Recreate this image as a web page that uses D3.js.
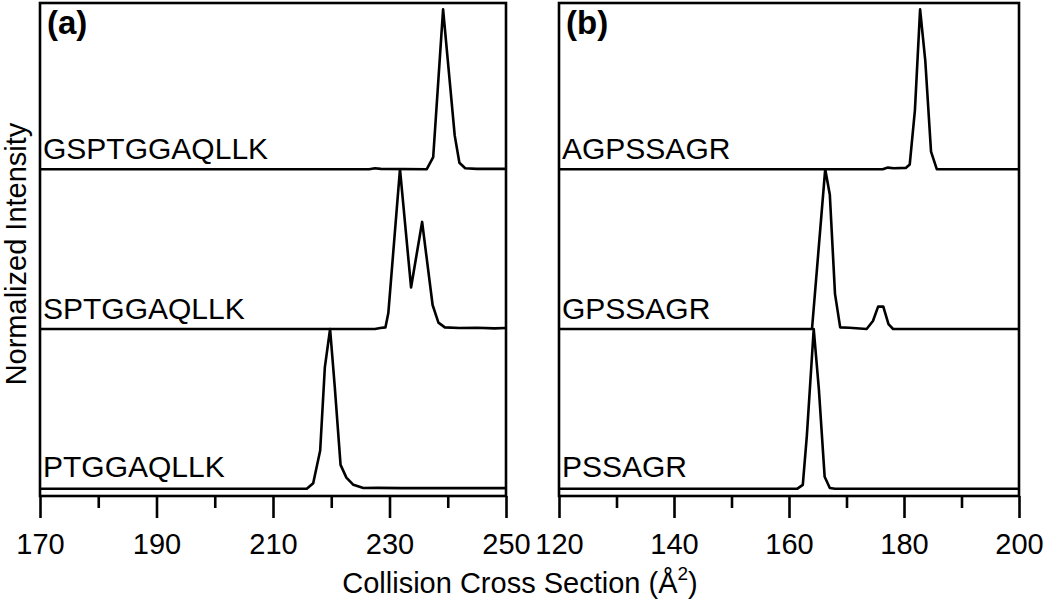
<!DOCTYPE html>
<html>
<head>
<meta charset="utf-8">
<script src="https://cdn.jsdelivr.net/npm/d3@7"></script>
<style>
  html, body { margin: 0; padding: 0; background: #fff; }
  svg { display: block; font-family: "Liberation Sans", Arial, sans-serif; }
</style>
</head>
<body>
<svg id="chart" width="1050" height="602"></svg>
<script>
// ---------------- DATA ----------------
const panelLabels = ["(a)", "(b)"];
const xDomainA = [170, 250];
const xDomainB = [120, 200];
const xMajorTicksA = [170, 190, 210, 230, 250];
const xMinorTicksA = [180, 200, 220, 240];
const xMajorTicksB = [120, 140, 160, 180, 200];
const xMinorTicksB = [130, 150, 170, 190];

// panel (a) traces, top to bottom: [CCS (Å²), normalized intensity]
const peptidesA = ["GSPTGGAQLLK", "SPTGGAQLLK", "PTGGAQLLK"];
const traceA_GSPTGGAQLLK = [
  [170, 0], [226.5, 0], [227.5, 0.006], [228.5, 0.002], [236.4, 0], [237.5, 0.075],
  [239.2, 1.0], [241.2, 0.21], [242.0, 0.04], [243.0, 0.006], [245, 0.002], [250, 0.002]
];
const traceA_SPTGGAQLLK = [
  [170, 0], [227.5, 0], [228.4, 0.006], [229.3, 0.01], [229.8, 0.10], [231.8, 1.0],
  [233.7, 0.26], [235.6, 0.67], [237.4, 0.15], [238.4, 0.04], [239.5, 0.01],
  [242, 0.006], [245, 0.008], [248, 0.004], [250, 0.006]
];
const traceA_PTGGAQLLK = [
  [170, 0], [215.8, 0], [216.9, 0.035], [218.1, 0.24], [218.9, 0.76], [219.8, 1.0],
  [220.6, 0.64], [221.6, 0.15], [222.6, 0.07], [223.8, 0.025], [225.5, 0.005],
  [228, 0.006], [232, 0.004], [250, 0.004]
];

// panel (b) traces, top to bottom
const peptidesB = ["AGPSSAGR", "GPSSAGR", "PSSAGR"];
const traceB_AGPSSAGR = [
  [120, 0], [176.3, 0], [177.2, 0.01], [178.2, 0.006], [180.3, 0.008], [181.0, 0.03],
  [181.9, 0.37], [182.8, 1.0], [183.7, 0.68], [184.7, 0.11], [185.7, 0.0], [200, 0]
];
const traceB_GPSSAGR = [
  [120, 0], [164.0, 0], [166.3, 1.0], [167.1, 0.84], [168.0, 0.22], [168.9, 0.01],
  [170.5, 0.008], [173.5, 0.0], [174.6, 0.05], [175.5, 0.14], [176.4, 0.14],
  [177.3, 0.03], [178.1, 0.0], [200, 0]
];
const traceB_PSSAGR = [
  [120, 0], [161.4, 0], [162.4, 0.025], [163.1, 0.33], [164.3, 1.0], [165.2, 0.62],
  [166.2, 0.075], [167.1, 0.005], [168, 0], [200, 0]
];

const xTitleMain = "Collision Cross Section (Å";
const xTitleSup = "2";
const xTitleEnd = ")";
const yTitle = "Normalized Intensity";

// ---------------- DRAW ----------------
const svg = d3.select("#chart");
const plotTop = 3, plotBottom = 496;
const y = d3.scaleLinear().domain([-0.045, 3.04]).range([plotBottom, plotTop]);

const panels = [
  { label: panelLabels[0], x0: 40, x1: 506, domain: xDomainA, major: xMajorTicksA, minor: xMinorTicksA,
    names: peptidesA, traces: [traceA_GSPTGGAQLLK, traceA_SPTGGAQLLK, traceA_PTGGAQLLK] },
  { label: panelLabels[1], x0: 559, x1: 1019, domain: xDomainB, major: xMajorTicksB, minor: xMinorTicksB,
    names: peptidesB, traces: [traceB_AGPSSAGR, traceB_GPSSAGR, traceB_PSSAGR] }
];

panels.forEach((p, pi) => {
  const x = d3.scaleLinear().domain(p.domain).range([p.x0, p.x1]);
  const g = svg.append("g");

  const clipId = "clip" + pi;
  svg.append("clipPath").attr("id", clipId).append("rect")
    .attr("x", p.x0).attr("y", plotTop - 2).attr("width", p.x1 - p.x0).attr("height", plotBottom - plotTop + 2);

  const n = p.traces.length;
  p.traces.forEach((tr, i) => {
    const offset = n - 1 - i;
    const line = d3.line().x(d => x(d[0])).y(d => y(d[1] + offset));
    g.append("path")
      .attr("d", line(tr))
      .attr("fill", "none")
      .attr("stroke", "#000")
      .attr("stroke-width", 2.6)
      .attr("stroke-linejoin", "round")
      .attr("clip-path", `url(#${clipId})`);
    g.append("text")
      .attr("x", p.x0 + 3)
      .attr("y", y(offset) - (offset === 0 ? 12 : 10))
      .attr("font-size", 30)
      .attr("fill", "#000")
      .text(p.names[i]);
  });

  g.append("rect")
    .attr("x", p.x0).attr("y", plotTop)
    .attr("width", p.x1 - p.x0).attr("height", plotBottom - plotTop)
    .attr("fill", "none").attr("stroke", "#000").attr("stroke-width", 2.6);

  const axMajor = g.append("g").attr("transform", `translate(0,${plotBottom})`)
    .call(d3.axisBottom(x).tickValues(p.major).tickSize(22).tickPadding(15).tickFormat(d3.format("d")));
  axMajor.select(".domain").remove();
  axMajor.selectAll(".tick line").attr("stroke", "#000").attr("stroke-width", 2.6);
  axMajor.selectAll(".tick text").attr("font-size", 29).attr("fill", "#000")
    .attr("font-family", "Liberation Sans, Arial, sans-serif");

  const axMinor = g.append("g").attr("transform", `translate(0,${plotBottom})`)
    .call(d3.axisBottom(x).tickValues(p.minor).tickSize(12).tickFormat(""));
  axMinor.select(".domain").remove();
  axMinor.selectAll(".tick line").attr("stroke", "#000").attr("stroke-width", 2.6);

  g.append("text")
    .attr("x", p.x0 + 7).attr("y", 34)
    .attr("font-size", 33).attr("font-weight", "bold").attr("fill", "#000")
    .text(p.label);
});

const xt = svg.append("text")
  .attr("x", 520).attr("y", 593)
  .attr("text-anchor", "middle")
  .attr("font-size", 29).attr("fill", "#000");
xt.append("tspan").text(xTitleMain);
xt.append("tspan").attr("font-size", 19).attr("dy", -13).text(xTitleSup);
xt.append("tspan").attr("dy", 13).text(xTitleEnd);

svg.append("text")
  .attr("transform", "translate(26,254) rotate(-90)")
  .attr("text-anchor", "middle")
  .attr("font-size", 29).attr("fill", "#000")
  .text(yTitle);
</script>
</body>
</html>
